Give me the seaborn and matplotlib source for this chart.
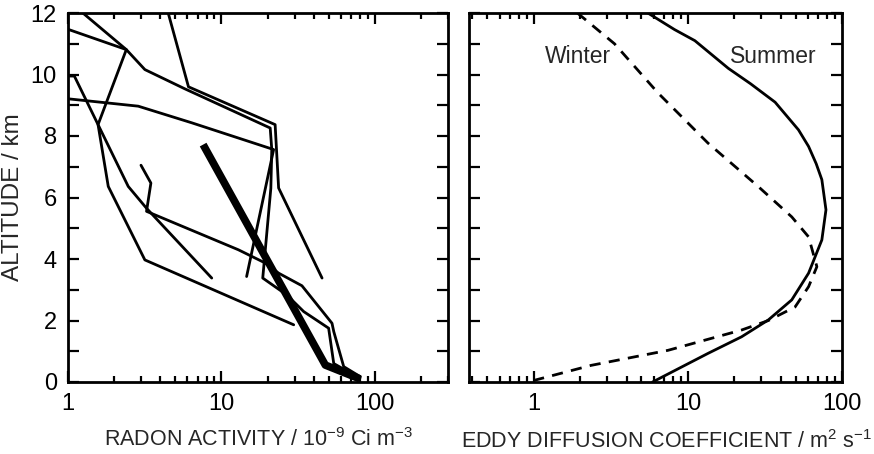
import matplotlib
matplotlib.use("Agg")
import matplotlib.pyplot as plt
from matplotlib.ticker import LogLocator, FixedLocator, NullFormatter
import numpy as np
import pandas as pd
import seaborn as sns

# Radon activity profiles (10^-9 Ci m^-3) against altitude (km)
profile_1_radon = [1.25, 2.4, 3.17, 5.8, 20.8, 21.3, 21.0, 18.6, 26.7, 34.4, 50.0, 54.0, 80.0]
profile_1_alt = [12.0, 10.81, 10.16, 9.53, 8.26, 7.56, 6.3, 3.38, 2.83, 2.29, 1.75, 0.6, 0.12]

profile_2_radon = [4.5, 6.1, 22.4, 23.6, 45.3]
profile_2_alt = [12.0, 9.6, 8.37, 6.31, 3.38]

profile_3_radon = [1.0, 2.4, 1.57, 1.83, 3.17, 29.6]
profile_3_alt = [11.47, 10.81, 8.37, 6.36, 3.97, 1.86]

profile_4_radon = [1.0, 2.87, 6.4, 21.9, 14.6]
profile_4_alt = [9.21, 8.97, 8.43, 7.56, 3.43]

profile_5_radon = [1.0, 1.1, 1.57, 2.47, 3.25, 8.65]
profile_5_alt = [9.95, 9.95, 8.37, 6.36, 5.65, 3.38]

profile_6_radon = [2.99, 3.47, 3.25, 12.9, 19.3, 23.6, 33.5, 52.6, 54.0, 62.7, 80.6]
profile_6_alt = [7.05, 6.47, 5.55, 4.3, 3.87, 3.54, 3.13, 1.91, 1.64, 0.5, 0.17]

mean_radon = [7.6, 47.6, 80.0]
mean_alt = [7.72, 0.55, 0.1]

# Eddy diffusion coefficient (m^2 s^-1) against altitude (km)
summer_k = [5.5, 8.2, 11.1, 18.3, 25.5, 36.8, 52.2, 60.7, 68.0, 74.0, 78.7,
            74.0, 60.7, 47.2, 33.3, 22.3, 13.5, 5.9]
summer_alt = [12.0, 11.46, 11.1, 10.2, 9.7, 9.1, 8.2, 7.66, 7.1, 6.58, 5.6,
              4.62, 3.54, 2.67, 2.02, 1.47, 0.93, 0.0]

winter_k = [1.92, 3.34, 6.4, 13.5, 28.7, 47.2, 60.7, 68.7, 60.7, 49.6, 33.3, 22.3, 7.43, 2.35, 1.0]
winter_alt = [12.0, 11.0, 9.4, 7.77, 6.35, 5.37, 4.72, 3.75, 3.1, 2.44, 2.0, 1.69, 1.03, 0.54, 0.05]

altitude_ticks = list(range(13))
altitude_labels = ["0", "", "2", "", "4", "", "6", "", "8", "", "10", "", "12"]
decade_ticks = [1, 10, 100]
decade_labels = ["1", "10", "100"]

sns.set_theme(style="ticks")
plt.rcParams["font.family"] = ["Liberation Sans", "DejaVu Sans"]
plt.rcParams["axes.linewidth"] = 2.0

profiles = pd.concat([
    pd.DataFrame({"radon": r, "alt": a, "profile": i})
    for i, (r, a) in enumerate([
        (profile_1_radon, profile_1_alt),
        (profile_2_radon, profile_2_alt),
        (profile_3_radon, profile_3_alt),
        (profile_4_radon, profile_4_alt),
        (profile_5_radon, profile_5_alt),
        (profile_6_radon, profile_6_alt),
    ])
], ignore_index=True)
mean_df = pd.DataFrame({"radon": mean_radon, "alt": mean_alt})
summer_df = pd.DataFrame({"k": summer_k, "alt": summer_alt})
winter_df = pd.DataFrame({"k": winter_k, "alt": winter_alt})

W, H = 874, 454
fig = plt.figure(figsize=(W / 100, H / 100), dpi=100)
ax1 = fig.add_axes([68 / W, 1 - 382 / H, 380 / W, 369 / H])
ax2 = fig.add_axes([469 / W, 1 - 382 / H, 373 / W, 369 / H])

sns.lineplot(data=profiles, x="radon", y="alt", units="profile", estimator=None,
             sort=False, color="black", lw=2.0, ax=ax1, legend=False)
sns.lineplot(data=mean_df, x="radon", y="alt", estimator=None, sort=False,
             color="black", lw=5.5, ax=ax1, legend=False, solid_capstyle="butt")

sns.lineplot(data=summer_df, x="k", y="alt", estimator=None, sort=False,
             color="black", lw=2.0, ax=ax2, legend=False)
sns.lineplot(data=winter_df, x="k", y="alt", estimator=None, sort=False,
             color="black", lw=2.0, ax=ax2, legend=False, dashes=False,
             linestyle=(0, (4.0, 3.0)))

for ax in (ax1, ax2):
    ax.set_xscale("log")
    ax.set_ylim(0, 12)
    ax.yaxis.set_major_locator(FixedLocator(altitude_ticks))
    ax.xaxis.set_major_locator(FixedLocator(decade_ticks))
    ax.xaxis.set_minor_locator(LogLocator(base=10, subs=np.arange(2, 10)))
    ax.xaxis.set_minor_formatter(NullFormatter())
    ax.tick_params(which="both", direction="in", top=True, right=True,
                   width=1.6, labelsize=17, colors="black")
    ax.tick_params(which="major", length=8, pad=8)
    ax.tick_params(which="minor", length=4.5)
    ax.set_xticklabels(decade_labels)
    for s in ax.spines.values():
        s.set_color("black")

ax1.set_xlim(1, 300)
ax1.set_yticklabels(altitude_labels)
ax1.set_ylabel("ALTITUDE / km", fontsize=17.5, labelpad=5)
ax1.set_xlabel(r"RADON ACTIVITY / 10$^{\mathregular{-9}}$ Ci m$^{\mathregular{-3}}$",
               fontsize=15.5, labelpad=9)

ax2.set_xlim(0.38, 100)
ax2.set_yticklabels([])
ax2.set_ylabel("")
ax2.set_xlabel(r"EDDY DIFFUSION COEFFICIENT / m$^{\mathregular{2}}$ s$^{\mathregular{-1}}$",
               fontsize=15.5)
ax2.xaxis.set_label_coords(0.53, -0.13)

ax2.text(1.94, 10.6, "Winter", fontsize=16.5, ha="center", va="center")
ax2.text(36.0, 10.6, "Summer", fontsize=16.5, ha="center", va="center")

fig.savefig("out.png", dpi=100)
